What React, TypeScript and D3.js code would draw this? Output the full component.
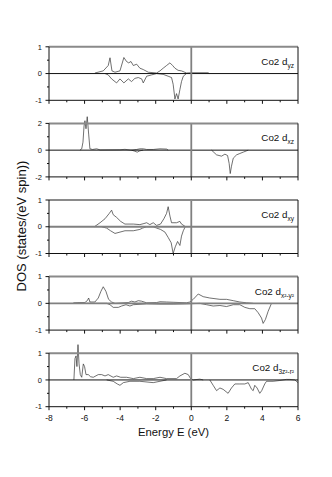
import React from "react";
import * as d3 from "d3";

type P = [number, number];

const xTicks = [-8, -6, -4, -2, 0, 2, 4, 6];
const xMinor = [-7, -5, -3, -1, 1, 3, 5];

const panelNames = ["yz", "xz", "xy", "x²-y²", "3z²-r²"];
const yDomains: [number, number][] = [[-1, 1], [-2, 2], [-1, 1], [-1, 1], [-1, 1]];
const yTicks = [[-1, 0, 1], [-2, 0, 2], [-1, 0, 1], [-1, 0, 1], [-1, 0, 1]];
const yMinor = [[-0.5, 0.5], [-1, 1], [-0.5, 0.5], [-0.5, 0.5], [-0.5, 0.5]];

const dyzUp: P[] = [[-5.42,0.02],[-4.95,0.1],[-4.67,0.3],[-4.57,0.59],[-4.46,0.1],[-4.29,0.05],[-4.01,0.1],[-3.79,0.6],[-3.64,0.45],[-3.52,0.4],[-3.39,0.45],[-3.26,0.3],[-3.07,0.35],[-2.89,0.2],[-2.7,0.15],[-2.42,0.05],[-1.95,0.02],[-1.76,0.1],[-1.58,0.2],[-1.39,0.3],[-1.2,0.4],[-1.05,0.3],[-0.92,0.2],[-0.74,0.12],[-0.55,0.1],[-0.27,0.02],[0.0,0.03],[0.95,0.03],[1.0,0]];
const dyzDown: P[] = [[-4.85,0],[-4.67,-0.05],[-4.48,-0.2],[-4.2,-0.35],[-4.01,-0.2],[-3.79,-0.35],[-3.54,-0.2],[-3.36,-0.3],[-3.17,-0.18],[-2.98,-0.15],[-2.79,-0.2],[-2.7,-0.35],[-2.51,-0.1],[-2.23,-0.05],[-1.95,0],[-1.58,-0.03],[-1.3,-0.1],[-1.11,-0.15],[-1.02,-0.4],[-0.92,-0.95],[-0.83,-0.75],[-0.74,-0.95],[-0.64,-0.6],[-0.55,-0.3],[-0.45,-0.1],[-0.27,0]];

const dxzUp: P[] = [[-6.26,0],[-6.16,0.1],[-6.09,0.6],[-6.03,1.8],[-5.98,2.2],[-5.92,1.6],[-5.85,2.5],[-5.77,1.2],[-5.7,0.1],[-5.55,0.05],[-5.32,0.1],[-5.13,0.02],[-4.01,0.03],[-3.73,0.06],[-3.36,0],[-3.07,0.05],[-2.89,0.1],[-2.7,0.1],[-2.51,0.05],[-2.14,0.05],[-1.76,0.1],[-1.39,0.08],[-1.3,0]];
const dxzDown: P[] = [[-3.36,0],[-3.17,-0.08],[-3.04,-0.15],[-2.89,-0.05],[-2.7,0]];
const dxzDown2: P[] = [[1.14,0],[1.42,-0.35],[1.7,-0.45],[1.89,-0.3],[2.04,-0.4],[2.13,-1.0],[2.19,-1.75],[2.26,-1.2],[2.36,-0.6],[2.55,-0.35],[2.73,-0.25],[2.92,-0.15],[3.11,-0.05],[3.2,0]];

const dxyUp: P[] = [[-5.45,0],[-5.13,0.15],[-4.85,0.3],[-4.61,0.5],[-4.48,0.62],[-4.39,0.45],[-4.2,0.35],[-3.97,0.2],[-3.73,0.1],[-3.26,0.1],[-2.89,0.08],[-2.66,0.12],[-2.51,0.15],[-2.33,0.08],[-2.14,0.15],[-1.95,0.05],[-1.73,0.1],[-1.54,0.3],[-1.39,0.5],[-1.3,0.75],[-1.2,0.4],[-1.11,0.15],[-0.83,0.15],[-0.64,0.2],[-0.55,0.1],[-0.36,0.02]];
const dxyDown: P[] = [[-5.04,0],[-4.76,-0.05],[-4.54,-0.15],[-4.29,-0.25],[-4.01,-0.2],[-3.73,-0.15],[-3.26,-0.15],[-2.89,-0.1],[-2.74,-0.05],[-2.51,0],[-2.14,0],[-1.95,-0.05],[-1.73,-0.1],[-1.48,-0.2],[-1.3,-0.4],[-1.13,-0.6],[-1.02,-1.0],[-0.9,-0.75],[-0.77,-0.55],[-0.64,-0.7],[-0.55,-0.35],[-0.45,-0.15],[-0.34,0]];

const dx2Up: P[] = [[-6.63,0.02],[-6.26,0.03],[-5.98,0.03],[-5.85,0.1],[-5.77,0.2],[-5.7,0.05],[-5.42,0.05],[-5.23,0.2],[-5.08,0.45],[-4.95,0.62],[-4.8,0.45],[-4.65,0.15],[-4.48,0.05],[-4.29,0],[-3.54,0.03],[-3.36,0.08],[-3.17,0.05],[-2.98,0.1],[-2.79,0.08],[-2.51,0.02],[-1.95,0.03],[-1.76,0.06],[-1.39,0.05],[-1.02,0.04],[-0.27,0.02],[-0.08,0.05],[0.11,0.15],[0.39,0.35],[0.67,0.25],[1.04,0.2],[1.61,0.15],[1.98,0.15],[2.36,0.1],[2.73,0.05],[3.11,0.02],[3.48,0]];
const dx2Down: P[] = [[-5.88,0],[-4.76,0],[-4.57,-0.05],[-4.39,-0.15],[-4.1,-0.15],[-3.92,-0.1],[-3.67,-0.05],[-3.45,-0.1],[-3.26,-0.05],[-2.51,-0.02],[-1.76,-0.03],[-1.02,-0.03],[-0.27,-0.02],[0.48,0],[0.86,-0.05],[1.23,-0.1],[1.61,-0.08],[1.98,-0.12],[2.36,-0.05],[2.73,-0.05],[3.01,-0.15],[3.29,-0.2],[3.57,-0.2],[3.76,-0.35],[3.95,-0.55],[4.04,-0.75],[4.17,-0.6],[4.32,-0.3],[4.51,0]];

const dz2Up: P[] = [[-6.6,0],[-6.54,0.8],[-6.48,0.9],[-6.43,0.5],[-6.37,1.32],[-6.31,0.6],[-6.24,0.2],[-6.16,0.1],[-6.07,0.6],[-6.0,0.5],[-5.92,0.2],[-5.79,0.2],[-5.66,0.12],[-5.51,0.1],[-5.23,0.2],[-5.04,0.2],[-4.85,0.15],[-4.67,0.2],[-4.39,0.1],[-4.2,0.15],[-3.97,0.1],[-3.64,0.1],[-3.26,0.05],[-2.89,0.1],[-2.51,0.05],[-2.14,0.05],[-1.76,0.1],[-1.39,0.05],[-0.83,0.05],[-0.64,0.15],[-0.36,0.25],[-0.17,0.2],[-0.04,0.05],[0.11,0],[0.48,0.03],[0.67,0]];
const dz2Down: P[] = [[-4.76,0],[-4.39,-0.05],[-4.16,-0.15],[-4.01,-0.2],[-3.82,-0.1],[-3.45,-0.05],[-2.89,-0.05],[-2.14,-0.1],[-1.76,-0.05],[-1.39,0]];
const dz2Down2: P[] = [[1.04,0],[1.23,-0.2],[1.42,-0.4],[1.61,-0.3],[1.79,-0.35],[2.07,-0.5],[2.26,-0.3],[2.45,-0.15],[2.73,-0.15],[3.01,-0.15],[3.2,-0.1],[3.39,-0.35],[3.48,-0.4],[3.57,-0.2],[3.7,-0.3],[3.85,-0.5],[3.96,-0.4],[4.13,-0.15],[4.23,-0.05],[4.6,-0.05],[4.98,-0.02],[5.35,0.02],[5.54,0.02],[5.82,0],[6.0,-0.1]];

const panelSeries: P[][][] = [
  [dyzUp, dyzDown],
  [dxzUp, dxzDown, dxzDown2],
  [dxyUp, dxyDown],
  [dx2Up, dx2Down],
  [dz2Up, dz2Down, dz2Down2],
];

const W = 332, H = 477;
const left = 49, right = 298;
const top0 = 46.8, step = 76.6, ph = 53.5;
const font = "'Liberation Sans', Arial, sans-serif";

function Panel({ i }: { i: number }) {
  const top = top0 + i * step;
  const bottom = top + ph;
  const x = d3.scaleLinear().domain([-8, 6]).range([left, right]);
  const y = d3.scaleLinear().domain(yDomains[i]).range([bottom, top]);
  const line = d3.line<P>().x(d => x(d[0])).y(d => y(d[1]));
  const grayZero = i === 2 || i === 3;
  const name = panelNames[i];
  return (
    <g>
      {panelSeries[i].map((s, k) => (
        <path key={k} d={line(s) || ""} fill="none" stroke="#333" strokeWidth={0.7} />
      ))}
      <line x1={left} x2={right} y1={y(0)} y2={y(0)} stroke={grayZero ? "#808080" : "#111"} strokeWidth={grayZero ? 1.8 : 1} />
      <line x1={x(0)} x2={x(0)} y1={top} y2={bottom} stroke="#808080" strokeWidth={1.8} />
      <line x1={left} x2={right} y1={top} y2={top} stroke="#8a8a8a" strokeWidth={2} />
      <line x1={left} x2={left} y1={top} y2={bottom} stroke="#111" strokeWidth={1} />
      <line x1={right} x2={right} y1={top} y2={bottom} stroke="#111" strokeWidth={1} />
      <line x1={left} x2={right} y1={bottom} y2={bottom} stroke="#111" strokeWidth={1} />
      {xTicks.map(t => (
        <line key={"xt" + t} x1={x(t)} x2={x(t)} y1={bottom} y2={bottom + 3.5} stroke="#111" strokeWidth={1} />
      ))}
      {xMinor.map(t => (
        <line key={"xm" + t} x1={x(t)} x2={x(t)} y1={bottom} y2={bottom + 2} stroke="#111" strokeWidth={1} />
      ))}
      {yTicks[i].map(t => (
        <g key={"yt" + t}>
          <line x1={left - 3.5} x2={left} y1={y(t)} y2={y(t)} stroke="#111" strokeWidth={1} />
          <text x={left - 7} y={y(t) + 2.7} fontSize={7.5} textAnchor="end" fontFamily={font} fill="#111">{t}</text>
        </g>
      ))}
      {yMinor[i].map(t => (
        <line key={"ym" + t} x1={left - 2} x2={left} y1={y(t)} y2={y(t)} stroke="#111" strokeWidth={1} />
      ))}
      <text x={294} y={top + 18} textAnchor="end" fontFamily={font} fontSize={9.8} fill="#111">
        Co2 d<tspan fontSize={6.5} dy={3}>{name}</tspan>
      </text>
    </g>
  );
}

export default function App() {
  const x = d3.scaleLinear().domain([-8, 6]).range([left, right]);
  const lastBottom = top0 + 4 * step + ph;
  return (
    <svg width={W} height={H} style={{ display: "block", position: "absolute", left: 0, top: 0, background: "#fff" }}>
      <rect width={W} height={H} fill="#fff" />
      {[0, 1, 2, 3, 4].map(i => <Panel key={i} i={i} />)}
      {xTicks.map(t => (
        <text key={t} x={x(t)} y={lastBottom + 14} textAnchor="middle" fontFamily={font} fontSize={8.5} fill="#111">{t}</text>
      ))}
      <text x={(left + right) / 2} y={436} textAnchor="middle" fontFamily={font} fontSize={11.3} fill="#111">Energy E (eV)</text>
      <text transform={`translate(26,226) rotate(-90)`} textAnchor="middle" fontFamily={font} fontSize={13} fill="#111">DOS (states/(eV spin))</text>
    </svg>
  );
}
